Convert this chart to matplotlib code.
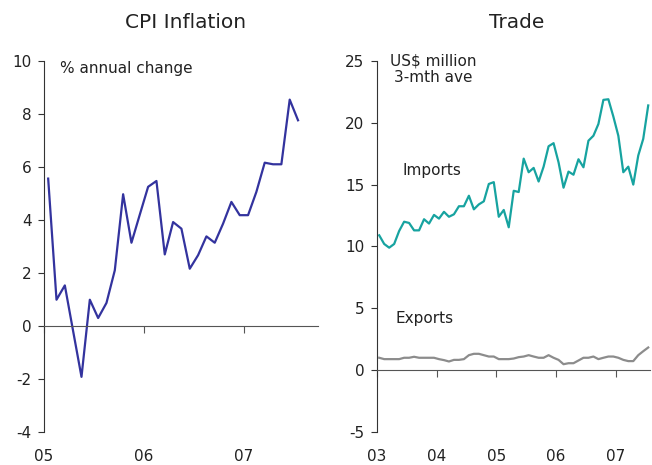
import matplotlib.pyplot as plt
import numpy as np

# CPI inflation, % annual change, monthly Jan 2005 - Jul 2007
cpi_start = 2005
cpi_values = [
    5.56, 0.99, 1.53, -0.2, -1.92, 0.99, 0.30, 0.87, 2.10, 4.97, 3.14, 4.2,
    5.25, 5.47, 2.70, 3.92, 3.67, 2.16, 2.67, 3.38, 3.14, 3.86, 4.68, 4.18,
    4.18, 5.06, 6.16, 6.10, 6.10, 8.54, 7.76,
]

# Trade, US$ million 3-mth ave, monthly Jan 2003 - Jul 2007
trade_start = 2003
imports = [
    10.9, 10.2, 9.9, 10.2, 11.25, 12.0, 11.9, 11.3, 11.3, 12.2, 11.85, 12.55,
    12.25, 12.8, 12.4, 12.6, 13.25, 13.25, 14.1, 13.0, 13.4, 13.65, 15.05, 15.2,
    12.4, 12.95, 11.55, 14.5, 14.4, 17.1, 16.0, 16.35, 15.25, 16.45, 18.1, 18.35,
    16.8, 14.75, 16.05, 15.8, 17.05, 16.4, 18.55, 18.95, 19.9, 21.85, 21.9, 20.5,
    18.95, 16.0, 16.45, 15.0, 17.35, 18.7, 21.4,
]
exports = [
    1.0, 0.89, 0.89, 0.89, 0.89, 1.0, 1.0, 1.08, 1.0, 1.0, 1.0, 1.0,
    0.89, 0.81, 0.7, 0.83, 0.83, 0.89, 1.21, 1.32, 1.32, 1.21, 1.1, 1.1,
    0.89, 0.89, 0.89, 0.94, 1.05, 1.1, 1.21, 1.1, 1.0, 1.0, 1.21, 1.0,
    0.83, 0.48, 0.56, 0.56, 0.78, 1.0, 1.0, 1.1, 0.89, 1.0, 1.1, 1.1,
    1.0, 0.83, 0.73, 0.73, 1.21, 1.53, 1.83,
]

cpi_years = ["05", "06", "07"]
trade_years = ["03", "04", "05", "06", "07"]

CPI_COLOR = "#33339e"
IMP_COLOR = "#17a3a0"
EXP_COLOR = "#8c8c8c"
AXIS_COLOR = "#333333"
TEXT_COLOR = "#222222"

plt.rcParams["axes.unicode_minus"] = False


def month_axis(start, n):
    # points sit in the middle of each month
    return start + (np.arange(n) + 0.5) / 12


def style_axes(ax, start, labels, ylim, yticks):
    ax.set_ylim(*ylim)
    ax.set_yticks(yticks)
    ticks = [start + i for i in range(len(labels))]
    ax.set_xticks(ticks)
    ax.set_xticklabels([])
    for side in ["top", "right"]:
        ax.spines[side].set_visible(False)
    ax.spines["left"].set_color(AXIS_COLOR)
    ax.spines["bottom"].set_position(("data", 0))
    ax.spines["bottom"].set_color("#555555")
    ax.tick_params(axis="x", direction="out", length=5, color="#555555")
    ax.tick_params(axis="y", direction="out", length=4, pad=5,
                   labelsize=11, color=AXIS_COLOR, labelcolor=TEXT_COLOR)
    # year labels sit under the plot, not on the zero line
    sec = ax.secondary_xaxis("bottom")
    sec.set_xticks(ticks)
    sec.set_xticklabels(labels)
    sec.spines["bottom"].set_visible(False)
    sec.tick_params(length=0, pad=12, labelsize=11, labelcolor=TEXT_COLOR)


fig = plt.figure(figsize=(6.52, 4.65), dpi=100)
ax1 = fig.add_axes([0.0675, 0.071, 0.420, 0.798])
ax2 = fig.add_axes([0.5778, 0.071, 0.419, 0.798])

# CPI
ax1.plot(month_axis(cpi_start, len(cpi_values)), cpi_values,
         color=CPI_COLOR, lw=1.6)
ax1.set_xlim(cpi_start, cpi_start + 2.74)
style_axes(ax1, cpi_start, cpi_years, (-4, 10), range(-4, 11, 2))
ax1.text(2005.16, 9.73, "% annual change", fontsize=11, va="center",
         color=TEXT_COLOR)
fig.text(0.284, 0.952, "CPI Inflation", fontsize=14.5, ha="center",
         va="center", color=TEXT_COLOR)

# Trade
x_tr = month_axis(trade_start, len(imports))
ax2.plot(x_tr, imports, color=IMP_COLOR, lw=1.6)
ax2.plot(x_tr, exports, color=EXP_COLOR, lw=1.6)
ax2.set_xlim(trade_start, trade_start + 4.57)
style_axes(ax2, trade_start, trade_years, (-5, 25), range(-5, 26, 5))
ax2.text(2003.94, 24.35, "US$ million\n3-mth ave", fontsize=11,
         ha="center", va="center", multialignment="center",
         linespacing=1.1, color=TEXT_COLOR)
ax2.text(2003.92, 16.1, "Imports", fontsize=11, ha="center", va="center",
         color=TEXT_COLOR)
ax2.text(2003.8, 4.17, "Exports", fontsize=11, ha="center", va="center",
         color=TEXT_COLOR)
fig.text(0.793, 0.952, "Trade", fontsize=14.5, ha="center", va="center",
         color=TEXT_COLOR)

fig.savefig("out.png", dpi=100)
